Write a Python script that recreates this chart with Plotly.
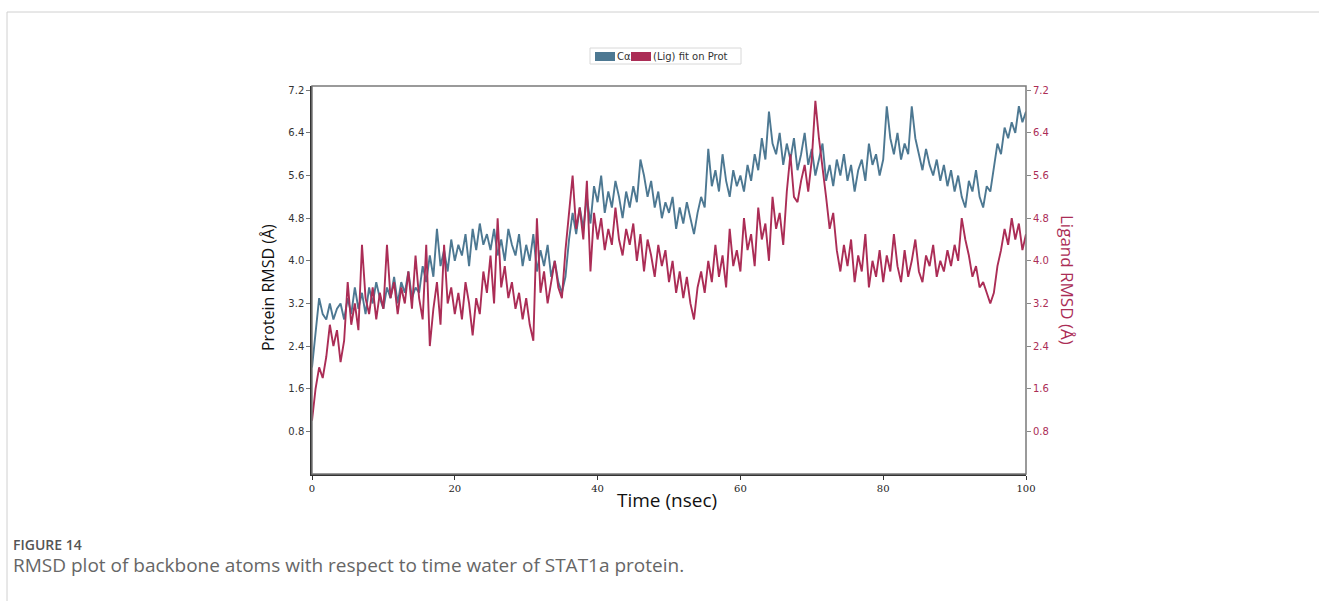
import plotly.graph_objects as go

# Time axis (ns), step 0.5
time_ns = [i * 0.5 for i in range(201)]

# Protein C-alpha RMSD (Å)
protein_rmsd = [
    2.0, 2.6, 3.3, 3.0, 2.9, 3.2, 2.9, 3.1, 3.2, 2.9,
    3.3, 3.0, 3.5, 3.1, 3.4, 3.0, 3.5, 3.2, 3.6, 3.3,
    3.1, 3.5, 3.3, 3.7, 3.2, 3.6, 3.4, 3.8, 3.3, 3.5,
    3.4, 3.9, 3.6, 4.1, 3.7, 4.6, 3.9, 4.2, 3.8, 4.4,
    4.0, 4.3, 4.1, 4.5, 3.9, 4.6, 4.2, 4.7, 4.3, 4.5,
    4.2, 4.6, 4.1, 4.4, 4.0, 4.6, 4.3, 4.1, 4.5, 3.9,
    4.3, 4.0, 4.5, 3.8, 4.2, 3.9, 4.3, 3.7, 4.0, 3.6,
    3.4, 3.7, 4.4, 4.9, 4.5, 5.0, 4.6, 5.2, 4.7, 5.4,
    5.1, 5.6, 4.9, 5.3, 5.0, 5.5, 5.2, 4.8, 5.3, 5.0,
    5.4, 5.1, 5.9, 5.6, 5.2, 5.5, 5.0, 5.3, 4.8, 5.1,
    4.9, 5.2, 4.6, 5.0, 4.7, 5.1, 4.8, 4.5, 4.9, 5.2,
    5.0, 6.1, 5.4, 5.7, 5.3, 6.0, 5.5, 5.2, 5.7, 5.4,
    5.6, 5.3, 5.8, 5.5, 6.0, 5.7, 6.3, 5.9, 6.8, 6.2,
    6.0, 6.4, 5.8, 6.2, 5.9, 6.3, 5.7, 6.0, 6.4, 5.8,
    6.1, 5.6, 5.9, 6.2, 5.5, 5.8, 5.4, 5.9, 5.6, 6.0,
    5.5, 5.8, 5.3, 5.7, 5.9, 5.5, 6.2, 5.8, 6.0, 5.6,
    5.9, 6.9, 6.3, 6.0, 6.4, 5.9, 6.2, 6.0, 6.9, 6.3,
    6.0, 5.7, 6.1, 5.8, 5.6, 5.9, 5.5, 5.8, 5.4, 5.7,
    5.3, 5.6, 5.2, 5.0, 5.5, 5.3, 5.7, 5.2, 5.0, 5.4,
    5.3, 5.8, 6.2, 6.0, 6.5, 6.3, 6.6, 6.4, 6.9, 6.6,
    6.8,
]

# Ligand RMSD fit on protein (Å)
ligand_rmsd = [
    1.0, 1.6, 2.0, 1.8, 2.2, 2.8, 2.4, 2.7, 2.1, 2.5,
    3.6, 2.8, 3.2, 2.7, 4.3, 3.3, 3.0, 3.5, 2.9, 3.4,
    3.1, 4.3, 3.3, 3.6, 3.0, 3.5, 3.2, 3.8, 3.1, 4.1,
    3.3, 2.9, 4.3, 2.4, 3.1, 3.6, 2.8, 4.3, 3.2, 3.5,
    3.0, 3.4, 2.9, 3.6, 3.2, 2.6, 3.3, 3.0, 3.8, 3.4,
    4.1, 3.2, 4.8, 3.5, 3.9, 3.3, 3.6, 3.1, 3.4, 2.9,
    3.3, 2.8, 2.5, 4.8, 3.4, 3.8, 3.2, 3.6, 4.0, 3.5,
    3.3, 4.2, 4.9, 5.6, 4.6, 5.0, 4.4, 5.5, 3.8, 4.9,
    4.4, 4.8, 4.2, 4.6, 4.3, 5.0, 4.4, 4.1, 4.6, 4.3,
    4.7, 4.0, 4.5, 3.8, 4.4, 4.1, 3.7, 4.3, 3.9, 4.2,
    3.6, 4.0, 3.4, 3.8, 3.3, 3.7, 3.2, 2.9, 3.5, 3.8,
    3.4, 4.0, 3.6, 4.3, 3.7, 4.1, 3.5, 4.6, 3.9, 4.2,
    3.8, 4.8, 4.2, 4.5, 3.9, 5.0, 4.4, 4.7, 4.0, 5.2,
    4.6, 4.9, 4.3, 5.3, 6.0, 5.2, 5.1, 5.5, 5.8, 5.3,
    5.9, 7.0, 6.3, 5.8, 5.2, 4.6, 4.9, 4.2, 3.8, 4.3,
    3.9, 4.4, 3.6, 4.1, 3.8, 4.5, 3.5, 4.0, 3.7, 4.2,
    3.6, 4.1, 3.8, 4.5, 3.9, 3.6, 4.2, 3.7, 4.0, 4.4,
    3.8, 3.6, 4.1, 3.9, 4.3, 3.7, 4.0, 3.8, 4.2, 3.9,
    4.3, 4.0, 4.8, 4.4, 4.1, 3.7, 3.9, 3.5, 3.6, 3.4,
    3.2, 3.4, 3.9, 4.2, 4.6, 4.3, 4.8, 4.4, 4.7, 4.2,
    4.5,
]

y_ticks = [0.8, 1.6, 2.4, 3.2, 4.0, 4.8, 5.6, 6.4, 7.2]
x_ticks = [0, 20, 40, 60, 80, 100]

BLUE = "#4d7892"
RED = "#ab2d56"

fig = go.Figure()
fig.add_trace(go.Scatter(x=time_ns, y=protein_rmsd, mode="lines", name="Cα",
                         line=dict(color=BLUE, width=1.9), showlegend=False))
fig.add_trace(go.Scatter(x=time_ns, y=ligand_rmsd, mode="lines", name="Lig fit on Prot",
                         line=dict(color=RED, width=1.9), yaxis="y2", showlegend=False))

L, R, T, B = 312, 1026, 86, 474
W, H = 1319, 601
pw, ph = R - L, B - T


def px(x):
    return (x - L) / pw


def py(y):
    return (B - y) / ph


shapes = [
    dict(type="rect", xref="paper", yref="paper", x0=0, x1=1, y0=0, y1=1,
         line=dict(color="#7a7a7a", width=1.5), layer="above"),
    dict(type="line", xref="paper", yref="paper", x0=px(7), x1=px(1319), y0=py(12), y1=py(12),
         line=dict(color="#d0d0d0", width=1)),
    dict(type="line", xref="paper", yref="paper", x0=px(7), x1=px(7), y0=py(12), y1=py(601),
         line=dict(color="#d0d0d0", width=1)),
    dict(type="rect", xref="paper", yref="paper", x0=px(590), x1=px(741), y0=py(64), y1=py(48),
         line=dict(color="#d8d8d8", width=1), fillcolor="white"),
    dict(type="rect", xref="paper", yref="paper", x0=px(595), x1=px(615), y0=py(61), y1=py(52),
         line=dict(width=0), fillcolor=BLUE),
    dict(type="rect", xref="paper", yref="paper", x0=px(631), x1=px(651), y0=py(61), y1=py(52),
         line=dict(width=0), fillcolor=RED),
]

annotations = [
    dict(text="Cα", xref="paper", yref="paper", x=px(615), y=py(56.5), xanchor="left",
         yanchor="middle", showarrow=False, font=dict(family="DejaVu Sans", size=10, color="#333")),
    dict(text="(Lig) fit on Prot", xref="paper", yref="paper", x=px(651), y=py(56.5),
         xanchor="left", yanchor="middle", showarrow=False,
         font=dict(family="DejaVu Sans", size=10, color="#333")),
    dict(text="Protein RMSD (Å)", xref="paper", yref="paper", x=px(268), y=py(288),
         xanchor="center", yanchor="middle", textangle=-90, showarrow=False,
         font=dict(family="Open Sans", size=16, color="#111")),
    dict(text="Ligand RMSD (Å)", xref="paper", yref="paper", x=px(1068), y=py(280),
         xanchor="center", yanchor="middle", textangle=90, showarrow=False,
         font=dict(family="Open Sans", size=17, color=RED)),
    dict(text="Time (nsec)", xref="paper", yref="paper", x=px(667), y=py(500),
         xanchor="center", yanchor="middle", showarrow=False,
         font=dict(family="Open Sans", size=19, color="#111")),
    dict(text="FIGURE 14", xref="paper", yref="paper", x=px(11), y=py(544),
         xanchor="left", yanchor="middle", showarrow=False,
         font=dict(family="Open Sans", size=14, color="#555", weight=600)),
    dict(text="RMSD plot of backbone atoms with respect to time water of STAT1a protein.",
         xref="paper", yref="paper", x=px(11), y=py(565), xanchor="left", yanchor="middle",
         showarrow=False, font=dict(family="Open Sans", size=19, color="#666")),
]

fig.update_layout(
    width=W, height=H,
    margin=dict(l=L, r=W - R, t=T, b=H - B),
    paper_bgcolor="white", plot_bgcolor="white",
    shapes=shapes, annotations=annotations,
    xaxis=dict(range=[0, 100], tickvals=x_ticks, ticks="outside", ticklen=4,
               tickcolor="#333", showgrid=False, zeroline=False, showline=True,
               linecolor="#333", linewidth=1.5,
               tickfont=dict(family="DejaVu Serif", size=10, color="#222")),
    yaxis=dict(range=[0, 7.28], tickvals=y_ticks, tickformat=".1f", ticks="outside",
               ticklen=4, tickcolor="#777", showgrid=False, zeroline=False, showline=True,
               linecolor="#333", linewidth=1.5,
               tickfont=dict(family="DejaVu Sans", size=10, color="#333")),
    yaxis2=dict(range=[0, 7.28], tickvals=y_ticks, tickformat=".1f", overlaying="y",
                side="right", ticks="outside", ticklen=4, tickcolor="#888",
                showgrid=False, zeroline=False, showline=False,
                tickfont=dict(family="DejaVu Sans", size=10, color=RED)),
)

fig.write_html("out.html")
